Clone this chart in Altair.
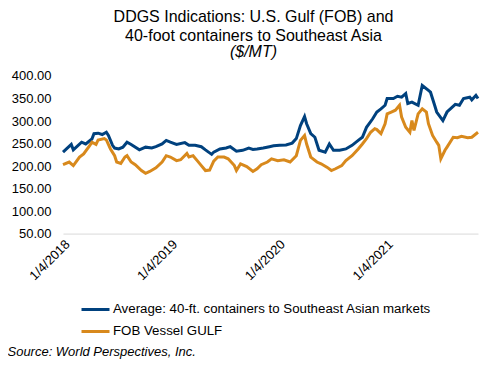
import altair as alt
import pandas as pd

START = "2018-01-04"

# Weeks since 1/4/2018 and values ($/MT)
avg_weeks = [0, 4, 5, 9, 11, 14, 15, 17, 19, 21, 22, 24, 25, 27, 29, 31, 33, 37, 40, 43,
             45, 48, 50, 52, 55, 59, 61, 64, 67, 69, 72, 73, 76, 79, 81, 84, 87, 90, 92, 94,
             97, 100, 102, 105, 108, 111, 113, 115, 117, 118, 120, 122, 124, 127, 129, 131,
             134, 137, 140, 143, 145, 147, 150, 152, 154, 156, 157, 160, 162, 164, 166, 167,
             169, 172, 174, 177, 178, 180, 181, 184, 186, 190, 192, 194, 197, 198, 200, 201]
avg_vals = [231, 248, 236, 253, 249, 260, 272, 273, 270, 275, 268, 246, 240, 238, 242, 253, 248, 236, 242, 240,
            243, 249, 257, 253, 248, 252, 246, 246, 243, 236, 226, 231, 238, 240, 243, 233, 235, 240, 237, 238,
            240, 243, 245, 246, 247, 251, 261, 290, 310, 294, 272, 264, 235, 231, 249, 235,
            235, 238, 246, 257, 264, 286, 305, 320, 327, 335, 350, 350, 355, 353, 361, 339,
            342, 335, 379, 368, 364, 335, 320, 301, 320, 337, 335, 350, 353, 347, 357, 350]

fob_weeks = [0, 3, 5, 8, 10, 13, 14, 16, 17, 20, 21, 23, 25, 26, 28, 30, 31, 33, 35, 38,
             40, 42, 45, 48, 50, 52, 55, 57, 60, 61, 63, 65, 67, 69, 71, 73, 75, 78, 80, 83,
             84, 86, 89, 92, 94, 96, 99, 101, 104, 107, 110, 113, 115, 117, 118, 120, 123, 125,
             128, 130, 132, 135, 137, 140, 143, 145, 147, 149, 151, 152, 154, 156, 157, 159,
             161, 163, 164, 166, 168, 169, 170, 172, 174, 176, 177, 179, 181, 182, 183, 185,
             186, 189, 191, 193, 196, 198, 201]
fob_vals = [203, 209, 201, 220, 227, 246, 253, 248, 258, 261, 258, 238, 223, 209, 206, 220, 223, 209, 203, 190,
            184, 188, 196, 209, 223, 220, 212, 214, 228, 220, 223, 212, 201, 190, 191, 211, 220, 220, 216, 201,
            190, 205, 199, 188, 194, 203, 209, 216, 212, 214, 209, 223, 257, 268, 249, 220, 209, 205,
            197, 190, 194, 201, 212, 223, 238, 249, 261, 275, 283, 281, 272, 294, 316, 320,
            324, 335, 309, 286, 275, 301, 279, 316, 327, 320, 294, 268, 253, 246, 216, 235,
            242, 264, 263, 266, 263, 264, 275]

series_names = ["Average: 40-ft. containers to Southeast Asian markets", "FOB Vessel GULF"]
series_colors = ["#00417e", "#d8891c"]
tick_dates = ["2018-01-04", "2019-01-04", "2020-01-04", "2021-01-04"]
y_ticks = [50, 100, 150, 200, 250, 300, 350, 400]

start = pd.Timestamp(START)
rows = []
for w, v in zip(avg_weeks, avg_vals):
    rows.append({"date": start + pd.Timedelta(days=7 * w), "value": v, "series": series_names[0]})
for w, v in zip(fob_weeks, fob_vals):
    rows.append({"date": start + pd.Timedelta(days=7 * w), "value": v, "series": series_names[1]})
df = pd.DataFrame(rows)
df["date"] = df["date"].dt.strftime("%Y-%m-%d")

FONT = "Liberation Sans"
end_date = (start + pd.Timedelta(days=7 * 201)).strftime("%Y-%m-%d")

chart = alt.Chart(df).mark_line(strokeWidth=3).encode(
    x=alt.X("date:T",
            scale=alt.Scale(domain=[START, end_date]),
            axis=alt.Axis(values=[pd.Timestamp(d).isoformat() for d in tick_dates],
                          format="%-m/%-d/%Y", labelAngle=-45, tickSize=0, grid=False,
                          domainColor="#d9d9d9", domainWidth=1, labelFontSize=13,
                          labelFont=FONT, labelColor="#000000", labelPadding=4,
                          title="Source: World Perspectives, Inc.", titleFont=FONT,
                          titleFontSize=13, titleFontStyle="italic", titleFontWeight="normal",
                          titleColor="#000000", titleAlign="left", titleAnchor="start",
                          titleBaseline="alphabetic", titleX=-56, titleY=122)),
    y=alt.Y("value:Q",
            scale=alt.Scale(domain=[50, 400], nice=False, zero=False),
            axis=alt.Axis(values=y_ticks, format=".2f", tickSize=0, grid=False, domain=False,
                          labelFontSize=13, labelFont=FONT, labelColor="#000000",
                          labelPadding=12, title=None)),
    color=alt.Color("series:N",
                    scale=alt.Scale(domain=series_names, range=series_colors),
                    legend=alt.Legend(title=None, orient="none", legendX=17, legendY=218,
                                      symbolType="stroke", symbolSize=784, symbolStrokeWidth=3,
                                      labelFont=FONT, labelFontSize=13.3, labelColor="#000000",
                                      labelOffset=2, rowPadding=0, labelLimit=400)),
).properties(
    width=415,
    height=157.6,
    padding={"left": 55, "top": 68, "right": 10, "bottom": 126},
    autosize=alt.AutoSizeParams(type="none"),
    title=alt.TitleParams(
        text=["DDGS Indications: U.S. Gulf (FOB) and", "40-foot containers to Southeast Asia"],
        subtitle="($/MT)",
        font=FONT, fontSize=16, fontWeight="normal", color="#000000", lineHeight=19,
        subtitleFont=FONT, subtitleFontSize=16, subtitleFontStyle="italic",
        subtitleColor="#000000", subtitlePadding=0, subtitleLineHeight=19,
        anchor="middle", frame="group", dx=-17, offset=10),
).configure_view(stroke=None)

chart.save("out.html", embed_options={"renderer": "svg", "actions": False})
